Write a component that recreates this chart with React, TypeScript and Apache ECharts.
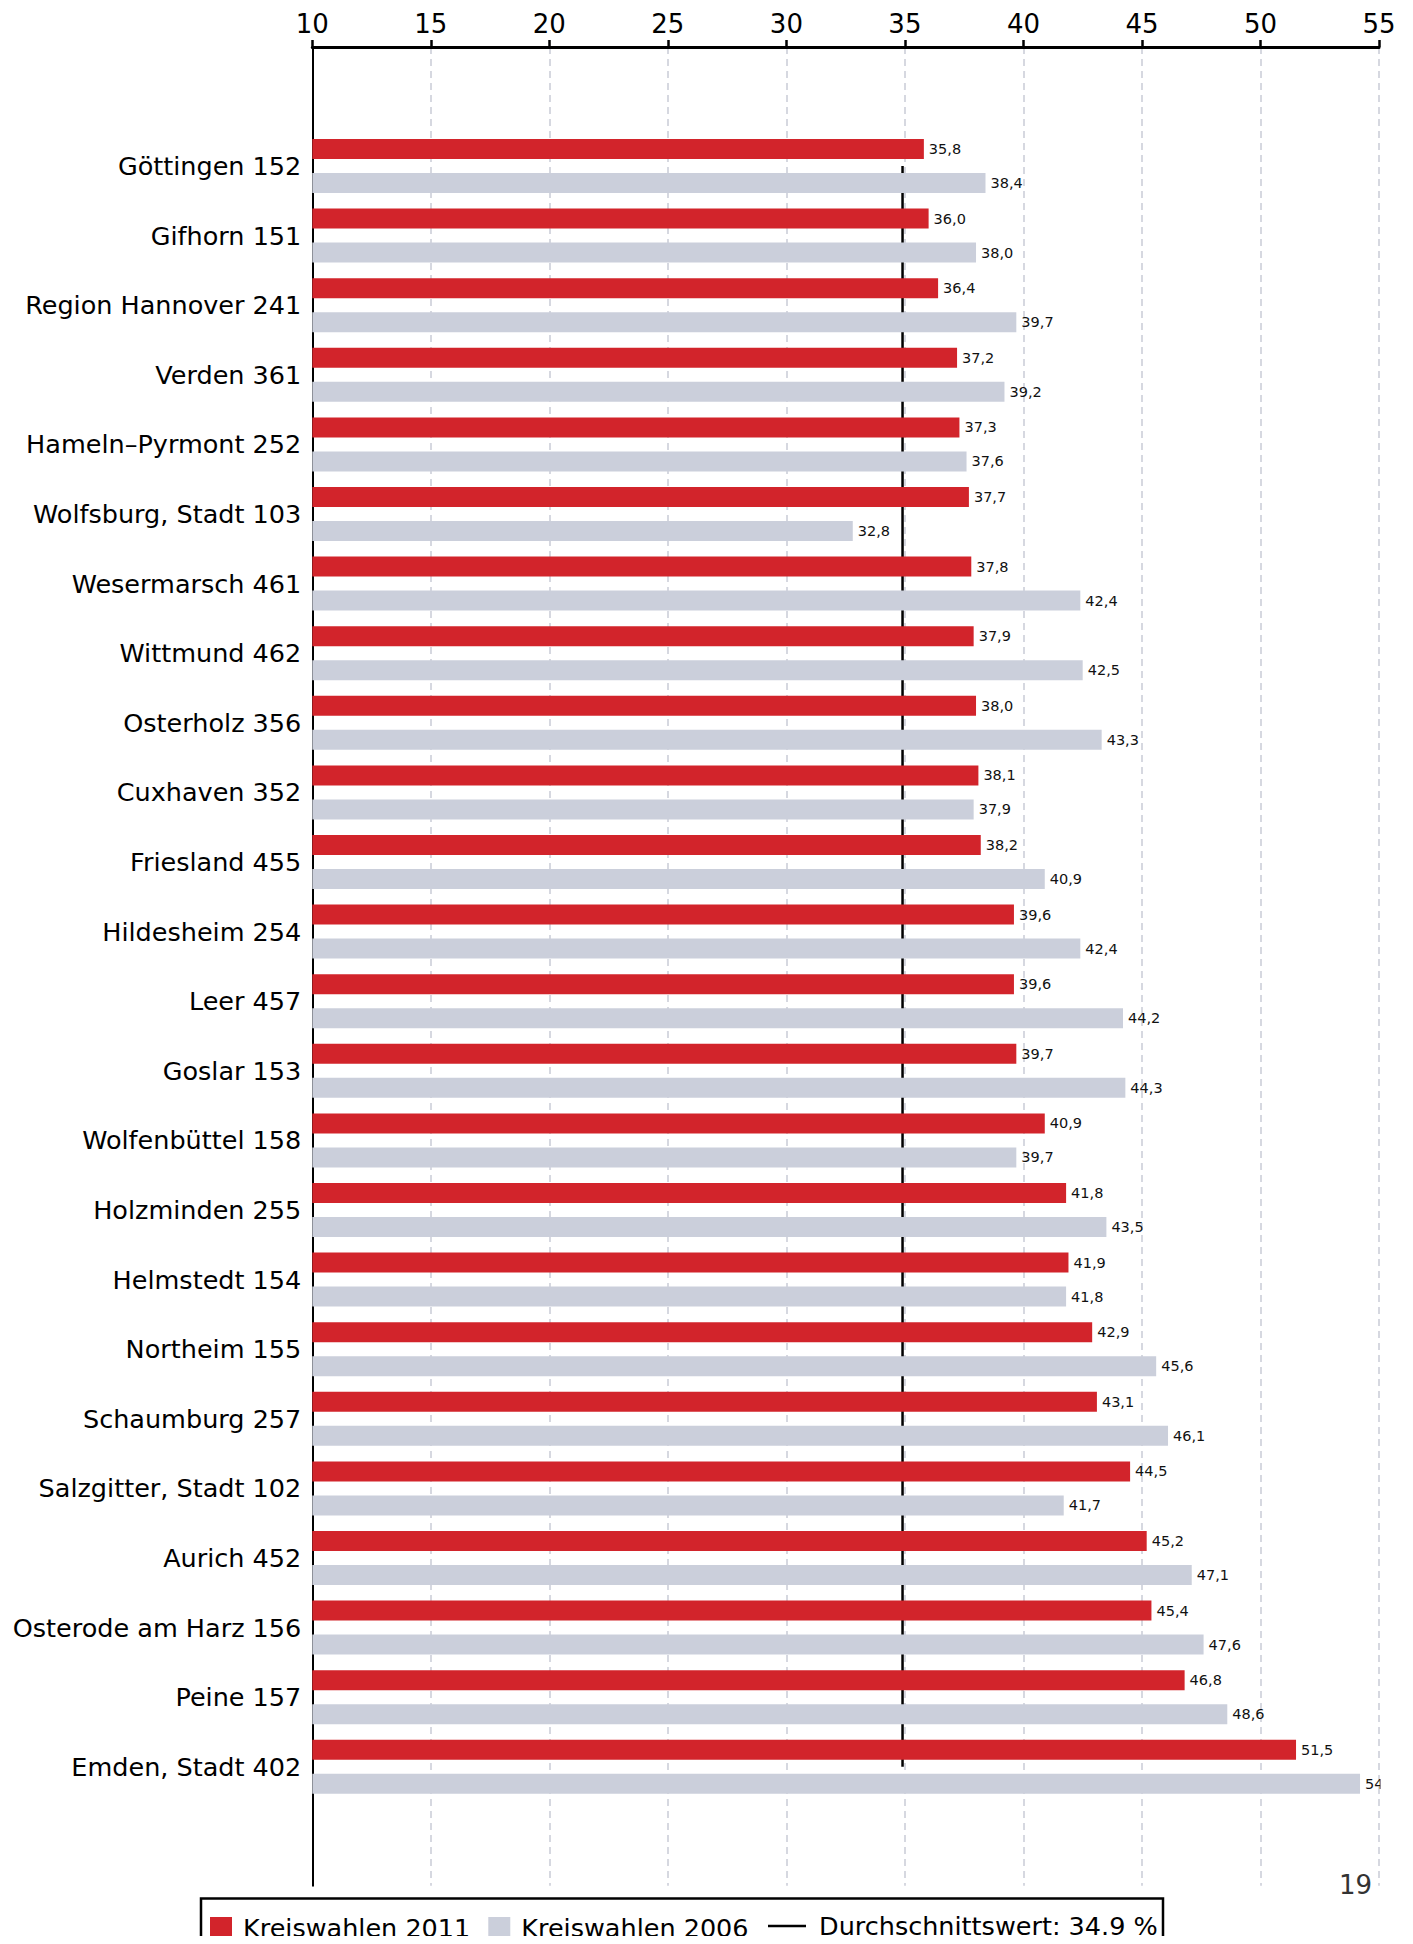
import React, { useEffect, useRef } from "react";
import * as echarts from "echarts";

const categories = [
  "Göttingen 152",
  "Gifhorn 151",
  "Region Hannover 241",
  "Verden 361",
  "Hameln–Pyrmont 252",
  "Wolfsburg, Stadt 103",
  "Wesermarsch 461",
  "Wittmund 462",
  "Osterholz 356",
  "Cuxhaven 352",
  "Friesland 455",
  "Hildesheim 254",
  "Leer 457",
  "Goslar 153",
  "Wolfenbüttel 158",
  "Holzminden 255",
  "Helmstedt 154",
  "Northeim 155",
  "Schaumburg 257",
  "Salzgitter, Stadt 102",
  "Aurich 452",
  "Osterode am Harz 156",
  "Peine 157",
  "Emden, Stadt 402",
];

const values2011 = [
  35.8, 36.0, 36.4, 37.2, 37.3, 37.7, 37.8, 37.9, 38.0, 38.1, 38.2, 39.6, 39.6,
  39.7, 40.9, 41.8, 41.9, 42.9, 43.1, 44.5, 45.2, 45.4, 46.8, 51.5,
];

const values2006 = [
  38.4, 38.0, 39.7, 39.2, 37.6, 32.8, 42.4, 42.5, 43.3, 37.9, 40.9, 42.4, 44.2,
  44.3, 39.7, 43.5, 41.8, 45.6, 46.1, 41.7, 47.1, 47.6, 48.6, 54.2,
];

const averageValue = 34.9;
const averageSeries = categories.map(() => averageValue);

const seriesNames = ["Kreiswahlen 2011", "Kreiswahlen 2006", "Durchschnittswert: 34.9 %"];
const xMin = 10;
const xMax = 55;
const xInterval = 5;
const pageNumber = "19";

const FONT = "'DejaVu Sans', 'Liberation Sans', sans-serif";
const RED = "#d2242b";
const GRAY = "#cbcfdb";

const fmt = (v: number) => v.toFixed(1).replace(".", ",");

export default function App() {
  const ref = useRef<HTMLDivElement>(null);

  useEffect(() => {
    if (!ref.current) return;
    const chart = echarts.init(ref.current, undefined, { renderer: "svg" });
    const gridLeft = 312.3;
    const gridRight = 1413 - 1379;

    chart.setOption({
      animation: false,
      backgroundColor: "#ffffff",
      textStyle: { fontFamily: FONT },
      grid: [
        { left: gridLeft, right: gridRight, top: 47, bottom: 1944 - 1885.7, containLabel: false },
        { left: gridLeft, right: gridRight, top: 131.2, bottom: 1944 - 1801.6, containLabel: false },
      ],
      xAxis: [
        {
          type: "value",
          gridIndex: 0,
          position: "top",
          min: xMin,
          max: xMax,
          interval: xInterval,
          axisLine: { show: true, onZero: false, lineStyle: { color: "#000", width: 3 } },
          axisTick: { show: true, length: 7, lineStyle: { color: "#000", width: 2.5 } },
          axisLabel: { fontSize: 26, color: "#000", margin: 10, fontFamily: FONT },
          splitLine: { show: true, lineStyle: { color: "#c9cbd6", width: 1.5, type: [7, 5] } },
        },
        {
          type: "value",
          gridIndex: 1,
          min: xMin,
          max: xMax,
          interval: xInterval,
          show: false,
        },
      ],
      yAxis: [
        {
          type: "value",
          gridIndex: 0,
          min: 0,
          max: 1,
          axisLine: { show: true, lineStyle: { color: "#000", width: 2 } },
          axisTick: { show: false },
          axisLabel: { show: false },
          splitLine: { show: false },
        },
        {
          type: "category",
          gridIndex: 1,
          inverse: true,
          data: categories,
          axisLine: { show: false },
          axisTick: { show: false },
          axisLabel: { fontSize: 25.5, color: "#000", margin: 11, fontFamily: FONT },
          splitLine: { show: false },
        },
      ],
      legend: [
        {
          data: [seriesNames[0], seriesNames[1]],
          left: 210,
          top: 1915,
          padding: 0,
          itemWidth: 22,
          itemHeight: 22,
          itemGap: 18,
          icon: "rect",
          textStyle: { fontSize: 25.5, color: "#000", fontFamily: FONT, padding: [0, 0, 0, 6] },
        },
        {
          data: [{ name: seriesNames[2], icon: "rect" }],
          left: 768,
          top: 1913,
          padding: 0,
          itemWidth: 38,
          itemHeight: 2.5,
          textStyle: { fontSize: 25.5, color: "#000", fontFamily: FONT, padding: [0, 0, 0, 8] },
        },
      ],
      graphic: [
        {
          type: "rect",
          shape: { x: 201, y: 1898.5, width: 962, height: 90 },
          style: { fill: "transparent", stroke: "#000", lineWidth: 2.5 },
          silent: true,
        },
        {
          type: "rect",
          shape: { x: 1380.5, y: 1770, width: 40, height: 28 },
          style: { fill: "#ffffff" },
          silent: true,
          z: 100,
        },
        {
          type: "text",
          x: 1372,
          y: 1885,
          style: {
            text: pageNumber,
            fill: "#333",
            fontSize: 26,
            fontFamily: FONT,
            align: "right",
            verticalAlign: "middle",
          },
          silent: true,
        },
      ],
      series: [
        {
          name: seriesNames[0],
          type: "bar",
          xAxisIndex: 1,
          yAxisIndex: 1,
          data: values2011,
          barWidth: 20,
          barGap: "70%",
          itemStyle: { color: RED },
          z: 3,
          label: {
            show: true,
            position: "right",
            distance: 5,
            fontSize: 14.5,
            color: "#111",
            fontFamily: FONT,
            formatter: (p: any) => fmt(p.value),
          },
        },
        {
          name: seriesNames[1],
          type: "bar",
          xAxisIndex: 1,
          yAxisIndex: 1,
          data: values2006,
          barWidth: 20,
          barGap: "70%",
          itemStyle: { color: GRAY },
          z: 3,
          label: {
            show: true,
            position: "right",
            distance: 5,
            fontSize: 14.5,
            color: "#111",
            fontFamily: FONT,
            formatter: (p: any) => fmt(p.value),
          },
        },
        {
          name: seriesNames[2],
          type: "line",
          xAxisIndex: 1,
          yAxisIndex: 1,
          data: averageSeries,
          symbol: "none",
          lineStyle: { color: "#000", width: 2.5 },
          itemStyle: { color: "#000" },
          z: 1,
        },
      ],
    });

    return () => chart.dispose();
  }, []);

  return (
    <div
      ref={ref}
      style={{ width: 1413, height: 1944, margin: -8, overflow: "hidden" }}
    />
  );
}
